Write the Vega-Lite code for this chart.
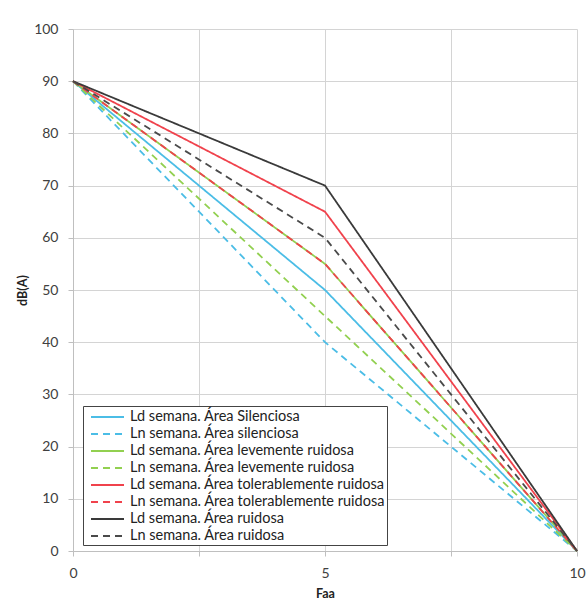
{
  "$schema": "https://vega.github.io/schema/vega-lite/v6.json",
  "width": 504,
  "height": 522,
  "autosize": {"type": "none"},
  "padding": {"left": 73, "top": 29, "right": 9, "bottom": 52},
  "background": "white",
  "config": {
    "view": {"stroke": null},
    "font": "Lato",
    "axis": {
      "gridColor": "#d4d4d4",
      "domainColor": "#bfbfbf",
      "tickColor": "#bfbfbf",
      "tickSize": 5,
      "labelFlush": false,
      "labelColor": "#404040",
      "labelFontSize": 14,
      "labelFont": "Lato",
      "titleFont": "Lato",
      "titleFontSize": 12.5,
      "titleFontWeight": "bold",
      "titleColor": "#222"
    }
  },
  "data": {
    "values": [
      {"series": "Ld semana. Área Silenciosa", "x": 0, "y": 90},
      {"series": "Ld semana. Área Silenciosa", "x": 5, "y": 50},
      {"series": "Ld semana. Área Silenciosa", "x": 10, "y": 0},
      {"series": "Ln semana. Área silenciosa", "x": 0, "y": 90},
      {"series": "Ln semana. Área silenciosa", "x": 5, "y": 40},
      {"series": "Ln semana. Área silenciosa", "x": 10, "y": 0},
      {"series": "Ld semana. Área levemente ruidosa", "x": 0, "y": 90},
      {"series": "Ld semana. Área levemente ruidosa", "x": 5, "y": 55},
      {"series": "Ld semana. Área levemente ruidosa", "x": 10, "y": 0},
      {"series": "Ln semana. Área levemente ruidosa", "x": 0, "y": 90},
      {"series": "Ln semana. Área levemente ruidosa", "x": 5, "y": 45},
      {"series": "Ln semana. Área levemente ruidosa", "x": 10, "y": 0},
      {"series": "Ld semana. Área tolerablemente ruidosa", "x": 0, "y": 90},
      {"series": "Ld semana. Área tolerablemente ruidosa", "x": 5, "y": 65},
      {"series": "Ld semana. Área tolerablemente ruidosa", "x": 10, "y": 0},
      {"series": "Ln semana. Área tolerablemente ruidosa", "x": 0, "y": 90},
      {"series": "Ln semana. Área tolerablemente ruidosa", "x": 5, "y": 55},
      {"series": "Ln semana. Área tolerablemente ruidosa", "x": 10, "y": 0},
      {"series": "Ld semana. Área ruidosa", "x": 0, "y": 90},
      {"series": "Ld semana. Área ruidosa", "x": 5, "y": 70},
      {"series": "Ld semana. Área ruidosa", "x": 10, "y": 0},
      {"series": "Ln semana. Área ruidosa", "x": 0, "y": 90},
      {"series": "Ln semana. Área ruidosa", "x": 5, "y": 60},
      {"series": "Ln semana. Área ruidosa", "x": 10, "y": 0}
    ]
  },
  "mark": {"type": "line", "strokeWidth": 1.8},
  "encoding": {
    "x": {
      "field": "x", "type": "quantitative",
      "scale": {"domain": [0, 10], "nice": false},
      "axis": {
        "title": "Faa",
        "values": [0, 2.5, 5, 7.5, 10],
        "labelExpr": "datum.value % 5 == 0 ? datum.label : ''",
        "labelPadding": 10,
        "titlePadding": 7
      }
    },
    "y": {
      "field": "y", "type": "quantitative",
      "scale": {"domain": [0, 100], "nice": false},
      "axis": {
        "title": "dB(A)",
        "values": [0, 10, 20, 30, 40, 50, 60, 70, 80, 90, 100],
        "labelPadding": 10,
        "titleX": -44
      }
    },
    "color": {
      "field": "series", "type": "nominal",
      "scale": {
        "domain": [
          "Ld semana. Área Silenciosa",
          "Ln semana. Área silenciosa",
          "Ld semana. Área levemente ruidosa",
          "Ln semana. Área levemente ruidosa",
          "Ld semana. Área tolerablemente ruidosa",
          "Ln semana. Área tolerablemente ruidosa",
          "Ld semana. Área ruidosa",
          "Ln semana. Área ruidosa"
        ],
        "range": ["#4bbde6", "#4bbde6", "#92d050", "#92d050", "#f0424c", "#f0424c", "#3a3a3a", "#4a4a4a"]
      },
      "legend": {
        "title": null,
        "orient": "none",
        "legendX": 10,
        "legendY": 377,
        "strokeColor": "#444",
        "fillColor": "white",
        "padding": 2,
        "symbolType": "M-0.375,0H3.75",
        "symbolSize": 256,
        "symbolStrokeWidth": 1.8,
        "labelFontSize": 14.5,
        "labelFont": "Lato",
        "labelColor": "#222",
        "labelLimit": 400,
        "labelOffset": 27,
        "rowPadding": 1
      }
    },
    "strokeDash": {
      "field": "series", "type": "nominal",
      "scale": {
        "domain": [
          "Ld semana. Área Silenciosa",
          "Ln semana. Área silenciosa",
          "Ld semana. Área levemente ruidosa",
          "Ln semana. Área levemente ruidosa",
          "Ld semana. Área tolerablemente ruidosa",
          "Ln semana. Área tolerablemente ruidosa",
          "Ld semana. Área ruidosa",
          "Ln semana. Área ruidosa"
        ],
        "range": [[1, 0], [7, 5], [1, 0], [7, 5], [1, 0], [7, 5], [1, 0], [7, 5]]
      }
    }
  }
}
